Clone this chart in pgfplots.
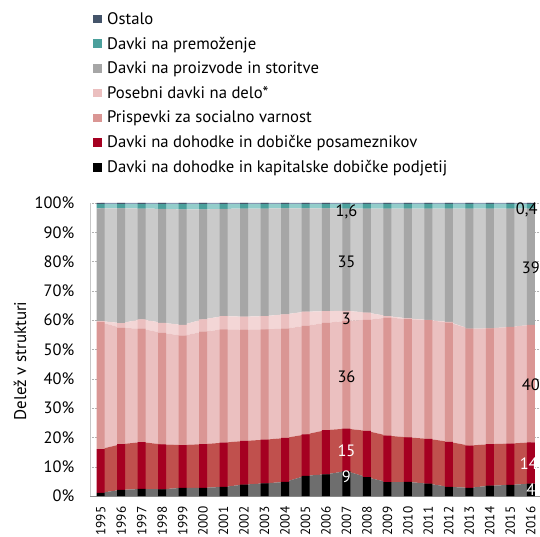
\documentclass[border=0pt]{standalone}
\usepackage{fontspec}
\setmainfont{PT Sans}
\usepackage{pgfplots}
\pgfplotsset{compat=1.18}
\usepackage{pgfplotstable}

\definecolor{bco}{HTML}{000000}
\definecolor{bind}{HTML}{A50021}
\definecolor{bsoc}{HTML}{DA9694}
\definecolor{bspe}{HTML}{EBBFBF}
\definecolor{bgoo}{HTML}{A6A6A6}
\definecolor{bpro}{HTML}{4BA09C}
\definecolor{bost}{HTML}{44546A}
\definecolor{aco}{HTML}{6E6E6E}
\definecolor{aind}{HTML}{C0504D}
\definecolor{asoc}{HTML}{EBC0C0}
\definecolor{aspe}{HTML}{F3D6D6}
\definecolor{agoo}{HTML}{CACACA}
\definecolor{apro}{HTML}{93CDCB}
\definecolor{aost}{HTML}{8496B0}
\tikzset{lbl/.style={font=\fontsize{16.5}{19}\selectfont, inner sep=0pt}}

\pgfplotstableread{
year co ind soc spe goo pro ost
1995 1.1 14.9 43.3 0.4 38.5 1.4 0.4
1996 2.1 15.6 39.7 1.6 39.2 1.4 0.4
1997 2.4 16.0 38.7 3.2 37.8 1.5 0.4
1998 2.3 15.3 38.1 3.4 38.9 1.6 0.4
1999 2.8 14.6 37.3 3.7 39.4 1.8 0.4
2000 2.8 14.9 38.4 4.2 37.5 1.8 0.4
2001 3.1 15.1 38.7 4.5 36.6 1.6 0.4
2002 3.9 14.9 38.0 4.4 36.9 1.5 0.4
2003 4.3 14.9 37.7 4.5 36.7 1.5 0.4
2004 4.8 15.0 37.3 4.9 36.2 1.4 0.4
2005 6.9 14.1 37.1 4.8 35.3 1.4 0.4
2006 7.4 15.1 36.6 4.0 35.1 1.4 0.4
2007 8.5 14.5 36.8 3.4 34.9 1.6 0.3
2008 6.4 15.8 37.9 2.5 35.5 1.6 0.3
2009 4.7 15.9 40.3 0.5 36.7 1.6 0.3
2010 4.8 15.2 40.4 0.2 37.5 1.6 0.3
2011 4.2 15.3 40.5 0.1 38.0 1.6 0.3
2012 3.1 15.4 40.7 0.2 38.7 1.6 0.3
2013 2.8 14.4 39.9 0.0 41.0 1.6 0.3
2014 3.5 14.2 39.5 0.0 40.9 1.6 0.3
2015 3.8 14.1 39.8 0.0 40.4 1.6 0.3
2016 4.2 14.1 40.1 0.0 39.7 1.5 0.4
}\data

\begin{document}
\begin{tikzpicture}
\useasboundingbox (-90.5bp,-41bp) rectangle (449.5bp,496bp);
\pgfplotsset{base/.style={scale only axis, width=450.5bp, height=293bp,
  xmin=1994.5, xmax=2016.5, ymin=0, ymax=100, at={(0,0)}, anchor=south west}}
\begin{axis}[base, stack plots=y,
  axis x line*=bottom, axis y line*=left,
  x axis line style={draw=black!45, line width=0.8pt},
  y axis line style={draw=black!22, line width=0.8pt},
  major tick length=0pt,
  ymajorgrids, grid style={densely dotted, black!30},
  ytick={0,10,...,100},
  xtick={1995,...,2016},
  /pgf/number format/assume math mode=true,
  /pgf/number format/1000 sep={},
  yticklabel={\pgfmathprintnumber{\tick}\%},
  yticklabel style={font=\fontsize{16.5}{19}\selectfont, inner sep=0pt, anchor=east, xshift=-16bp},
  xticklabel style={font=\fontsize{13.3}{16}\selectfont, inner sep=0pt, yshift=-10.5bp, rotate=90, anchor=east},
  clip=false]
 \addplot[fill=aco, draw=none] table[x=year,y=co]{\data} \closedcycle;
 \addplot[fill=aind, draw=none] table[x=year,y=ind]{\data} \closedcycle;
 \addplot[fill=asoc, draw=none] table[x=year,y=soc]{\data} \closedcycle;
 \addplot[fill=aspe, draw=none] table[x=year,y=spe]{\data} \closedcycle;
 \addplot[fill=agoo, draw=none] table[x=year,y=goo]{\data} \closedcycle;
 \addplot[fill=apro, draw=none] table[x=year,y=pro]{\data} \closedcycle;
 \addplot[fill=aost, draw=none] table[x=year,y=ost]{\data} \closedcycle;
\end{axis}
\begin{axis}[base, ybar stacked, bar width=8bp, axis lines=none,
  reverse legend,
  legend image code/.code={\fill[#1] (0bp,-4.25bp) rectangle (8.5bp,4.25bp);},
  legend cell align=left,
  legend style={at={(rel axis cs:0,1)}, anchor=north west, xshift=2.5bp, yshift=193bp,
    draw=none, fill=none, font=\fontsize{16.75}{19}\selectfont, row sep=7.3bp, inner sep=0pt,
    /tikz/every odd column/.append style={column sep=3.5bp}},
  clip=false]
 \addplot[fill=bco, draw=none] table[x=year,y=co]{\data};
 \addplot[fill=bind, draw=none] table[x=year,y=ind]{\data};
 \addplot[fill=bsoc, draw=none] table[x=year,y=soc]{\data};
 \addplot[fill=bspe, draw=none] table[x=year,y=spe]{\data};
 \addplot[fill=bgoo, draw=none] table[x=year,y=goo]{\data};
 \addplot[fill=bpro, draw=none] table[x=year,y=pro]{\data};
 \addplot[fill=bost, draw=none] table[x=year,y=ost]{\data};
 \legend{Davki na dohodke in kapitalske dobičke podjetij, Davki na dohodke in dobičke posameznikov, Prispevki za socialno varnost, Posebni davki na delo*, Davki na proizvode in storitve, Davki na premoženje, Ostalo}
\end{axis}
\begin{axis}[base, axis lines=none, clip=false]
 \node[lbl] at (axis cs:2007,97.0) {1,6};
 \node[lbl] at (axis cs:2007,80.0) {35};
 \node[lbl] at (axis cs:2007,60.6) {3};
 \node[lbl] at (axis cs:2007,40.7) {36};
 \node[lbl, white] at (axis cs:2007,15.4) {15};
 \node[lbl, white] at (axis cs:2007,6.6) {9};
 \node[lbl] at (axis cs:2015.8,97.6) {0,4};
 \node[lbl] at (axis cs:2016,77.9) {39};
 \node[lbl] at (axis cs:2016,37.9) {40};
 \node[lbl, white] at (axis cs:2015.9,11.2) {14};
 \node[lbl, white] at (axis cs:2016,2.0) {4};
\end{axis}
\node[rotate=90, font=\fontsize{17}{20}\selectfont] at (-70.5bp,135bp) {Delež v strukturi};
\end{tikzpicture}
\end{document}
